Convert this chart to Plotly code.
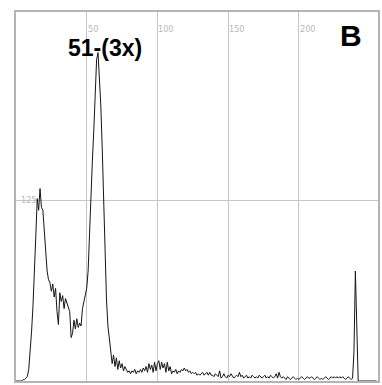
import plotly.graph_objects as go

# ---- data ----
channels = list(range(256))
counts = [
    0, 0, 0, 0, 0, 1, 1, 2, 3, 8,            # 0-9
    20, 34, 52, 72, 100, 126, 118, 133, 120, 118,   # 10-19
    104, 90, 76, 70, 68, 62, 67, 58, 64, 48,  # 20-29
    39, 61, 55, 59, 50, 57, 54, 52, 48, 30,  # 30-39
    33, 42, 36, 43, 37, 40, 38, 50, 55, 58,  # 40-49
    64, 76, 104, 132, 152, 173, 198, 222, 227, 212,  # 50-59
    190, 160, 118, 80, 56, 38, 28, 20, 12, 18,  # 60-69
    10, 16, 8, 14, 9, 12, 7, 10, 8, 6,       # 70-79
    7, 5, 7, 6, 8, 5, 7, 6, 8, 6,            # 80-89
    9, 7, 10, 6, 12, 8, 11, 6, 13, 7,        # 90-99
    12, 14, 8, 13, 9, 12, 6, 13, 7, 10,      # 100-109
    5, 7, 6, 8, 5, 7, 6, 8, 7, 9,            # 110-119
    7, 8, 6, 7, 5, 6, 5, 6, 4, 5,            # 120-129
    4, 5, 6, 4, 5, 6, 4, 6, 4, 4,            # 130-139
    3, 5, 4, 3, 7, 2, 3, 5, 3, 2,            # 140-149
    4, 3, 5, 3, 2, 3, 4, 3, 6, 3,            # 150-159
    4, 2, 3, 4, 2, 3, 2, 4, 3, 2,            # 160-169
    3, 2, 4, 3, 2, 3, 4, 2, 3, 2,            # 170-179
    4, 3, 2, 3, 5, 2, 6, 3, 2, 3,            # 180-189
    2, 1, 3, 2, 1, 2, 3, 2, 1, 2,            # 190-199
    1, 2, 3, 2, 1, 2, 3, 2, 2, 3,            # 200-209
    2, 1, 2, 3, 2, 1, 2, 1, 2, 3,            # 210-219
    2, 1, 2, 3, 2, 3, 2, 3, 2, 3,            # 220-229
    2, 3, 2, 1, 2, 3, 2, 1, 2, 20,           # 230-239
    76, 40, 0, 0, 0, 0, 0, 0, 0, 0,          # 240-249
    0, 0, 0, 0, 0, 0,                        # 250-255
]
x_ticks = [50, 100, 150, 200]
y_ticks = [125]
x_range = [0, 256]
y_range = [0, 255]
peak_label = "51-(3x)"
panel_label = "B"

grid_col = "#c6c6c6"
tick_font = dict(family="Liberation Sans Narrow, DejaVu Sans Condensed, sans-serif",
                 size=9, color="#b8b8b8")

fig = go.Figure()
fig.add_trace(go.Scatter(x=channels, y=counts, mode="lines",
                         line=dict(color="#151515", width=1), hoverinfo="skip"))

annotations = []
for t in x_ticks:
    annotations.append(dict(x=t, y=0.953, xref="x", yref="paper", text=str(t),
                            showarrow=False, xanchor="left", yanchor="middle",
                            xshift=-1, font=tick_font))
for t in y_ticks:
    annotations.append(dict(x=0, y=t, xref="x", yref="y", text=str(t),
                            showarrow=False, xanchor="left", yanchor="middle",
                            xshift=3, font=tick_font))
annotations.append(dict(x=0.245, y=0.902, xref="paper", yref="paper", text="<b>%s</b>" % peak_label,
                        showarrow=False, xanchor="center", yanchor="middle",
                        font=dict(family="Liberation Sans, Arial, sans-serif", size=23, color="#000")))
annotations.append(dict(x=0.925, y=0.935, xref="paper", yref="paper", text="<b>%s</b>" % panel_label,
                        showarrow=False, xanchor="center", yanchor="middle",
                        font=dict(family="Liberation Sans, Arial, sans-serif", size=30, color="#000")))

fig.update_layout(
    width=382, height=385,
    margin=dict(l=16, r=2, t=12, b=4),
    paper_bgcolor="white", plot_bgcolor="white",
    showlegend=False,
    annotations=annotations,
    xaxis=dict(range=x_range, tickvals=x_ticks, showticklabels=False, ticks="",
               showgrid=True, gridcolor=grid_col, gridwidth=1, zeroline=False,
               showline=True, linecolor="#b4b4b4", linewidth=2, mirror=True),
    yaxis=dict(range=y_range, tickvals=y_ticks, showticklabels=False, ticks="",
               showgrid=True, gridcolor=grid_col, gridwidth=1, zeroline=False,
               showline=True, linecolor="#b4b4b4", linewidth=2, mirror=True),
)

fig.write_html("out.html")
